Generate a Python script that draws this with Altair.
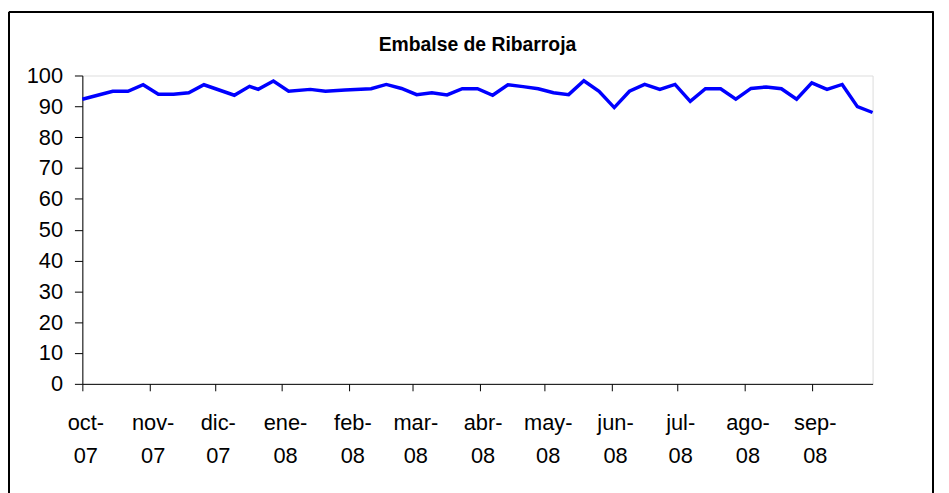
import altair as alt
import pandas as pd

dates = [
    "2007-10-01", "2007-10-08", "2007-10-15", "2007-10-22", "2007-10-29",
    "2007-11-05", "2007-11-12", "2007-11-19", "2007-11-26", "2007-12-03",
    "2007-12-10", "2007-12-17", "2007-12-21", "2007-12-28", "2008-01-04",
    "2008-01-14", "2008-01-21", "2008-01-30",
    "2008-02-11", "2008-02-18", "2008-02-25", "2008-03-03", "2008-03-10",
    "2008-03-17", "2008-03-24", "2008-03-31", "2008-04-07", "2008-04-14",
    "2008-04-21", "2008-04-28", "2008-05-05", "2008-05-12", "2008-05-19",
    "2008-05-26", "2008-06-02", "2008-06-09", "2008-06-16", "2008-06-23",
    "2008-06-30", "2008-07-07", "2008-07-14", "2008-07-21", "2008-07-28",
    "2008-08-04", "2008-08-11", "2008-08-18", "2008-08-25", "2008-09-01",
    "2008-09-08", "2008-09-15", "2008-09-22", "2008-09-29",
]
values = [
    92.3, 93.6, 94.9, 94.9, 97.0,
    93.9, 93.9, 94.4, 97.0, 95.3,
    93.6, 96.5, 95.5, 98.2, 94.9,
    95.5, 94.9, 95.3,
    95.7, 97.1, 95.8, 93.8, 94.4,
    93.7, 95.7, 95.7, 93.6, 97.0,
    96.4, 95.7, 94.4, 93.8, 98.3,
    94.9, 89.6, 94.9, 97.1, 95.5,
    97.1, 91.6, 95.7, 95.7, 92.3,
    95.8, 96.3, 95.7, 92.3, 97.6,
    95.5, 97.1, 89.9, 88.0,
]
month_names = ["ene", "feb", "mar", "abr", "may", "jun",
               "jul", "ago", "sep", "oct", "nov", "dic"]
tick_months = [(2007, 10), (2007, 11), (2007, 12), (2008, 1), (2008, 2), (2008, 3),
               (2008, 4), (2008, 5), (2008, 6), (2008, 7), (2008, 8), (2008, 9)]
y_ticks = [0, 10, 20, 30, 40, 50, 60, 70, 80, 90, 100]

df = pd.DataFrame({"fecha": dates, "nivel": values})

W, H = 797, 311
FONT = "Liberation Sans"

month_arr = "[" + ",".join(f"'{m}'" for m in month_names) + "]"
label_expr = f"[{month_arr}[utcmonth(datum.value)] + '-', utcFormat(datum.value, '%y')]"

x_enc = alt.X(
    "fecha:T",
    scale=alt.Scale(type="utc",
                    domain=[alt.DateTime(year=2007, month=10, date=1, utc=True),
                            alt.DateTime(year=2008, month=9, date=29, utc=True)]),
    axis=alt.Axis(
        title=None,
        values=[alt.DateTime(year=y, month=m, date=1, utc=True) for y, m in tick_months],
        labelExpr=label_expr,
        grid=False,
        domainColor="#000000",
        tickColor="#000000",
        tickSize=7,
        labelPadding=22,
        labelFont=FONT,
        labelFontSize=22,
        labelColor="#000000",
        labelLineHeight=33,
        labelBaseline="top",
        labelAlign="center",
        labelOffset=3,
        labelFlush=False,
        labelOverlap=False,
    ),
)
y_enc = alt.Y(
    "nivel:Q",
    scale=alt.Scale(domain=[0, 100], nice=False),
    axis=alt.Axis(
        title=None,
        values=y_ticks,
        grid=False,
        domainColor="#000000",
        tickColor="#000000",
        tickSize=8,
        labelPadding=12,
        labelFont=FONT,
        labelFontSize=22,
        labelColor="#000000",
    ),
)

line = alt.Chart(df).mark_line(color="#0000FF", strokeWidth=3.5).encode(x=x_enc, y=y_enc)

frame = alt.Chart(df).mark_rect(filled=False, stroke="#000000", strokeWidth=1).encode(
    x=alt.value(-74), x2=alt.value(858), y=alt.value(-64), y2=alt.value(520)
)

chart = alt.layer(frame, line).properties(
    width=W,
    height=H,
    title=alt.TitleParams("Embalse de Ribarroja", font=FONT, fontSize=19.5,
                          fontWeight="bold", color="#000000", anchor="middle",
                          offset=-44),
    autosize=alt.AutoSizeParams(type="none"),
    padding={"left": 75, "top": 66, "right": 69, "bottom": 108},
).configure_view(stroke=None).configure(background="#FFFFFF")

chart.save("out.html", embed_options={"renderer": "svg", "actions": False})
